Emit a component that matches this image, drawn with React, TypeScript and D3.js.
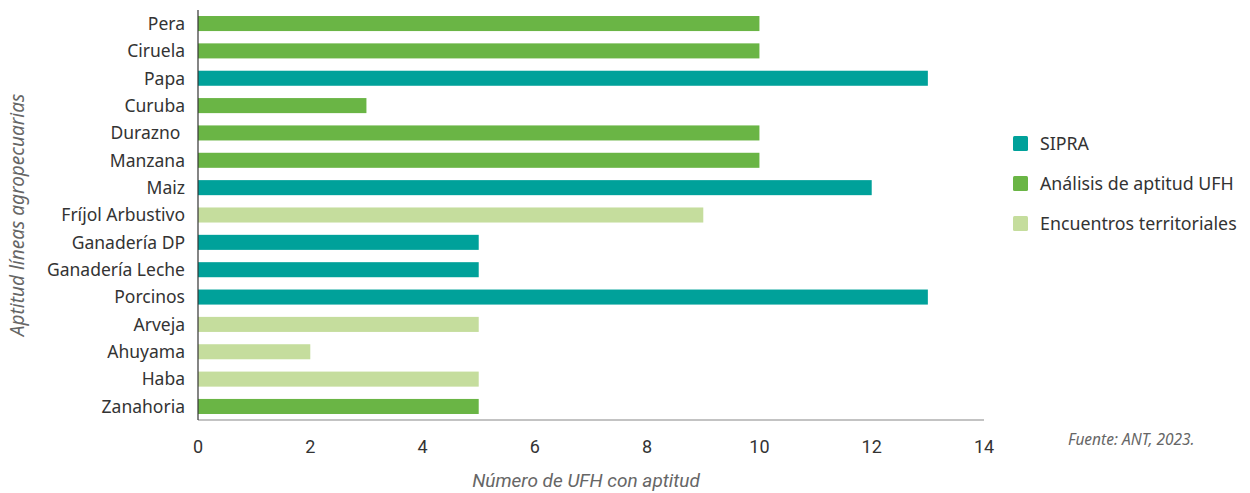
import React from "react";
import * as d3 from "d3";

const categories = ["Pera", "Ciruela", "Papa", "Curuba", "Durazno ", "Manzana", "Maiz", "Fríjol Arbustivo", "Ganadería DP", "Ganadería Leche", "Porcinos", "Arveja", "Ahuyama", "Haba", "Zanahoria"];
const values = [10, 10, 13, 3, 10, 10, 12, 9, 5, 5, 13, 5, 2, 5, 5];
const sources = ["Análisis de aptitud UFH", "Análisis de aptitud UFH", "SIPRA", "Análisis de aptitud UFH", "Análisis de aptitud UFH", "Análisis de aptitud UFH", "SIPRA", "Encuentros territoriales", "SIPRA", "SIPRA", "SIPRA", "Encuentros territoriales", "Encuentros territoriales", "Encuentros territoriales", "Análisis de aptitud UFH"];
const seriesNames = ["SIPRA", "Análisis de aptitud UFH", "Encuentros territoriales"];
const seriesColors = ["#00A19A", "#6AB545", "#C5DD9D"];
const xTicks = [0, 2, 4, 6, 8, 10, 12, 14];

export default function App() {
  const W = 1250, H = 493;
  const x = d3.scaleLinear().domain([0, 14]).range([198, 984]);
  const y = d3.scaleBand().domain(categories).range([10, 420]).paddingInner(0.45).paddingOuter(0.22);
  const color = d3.scaleOrdinal<string, string>().domain(seriesNames).range(seriesColors);
  const font = "'Noto Sans', sans-serif";
  const narrow = "'Liberation Sans Narrow', Roboto, sans-serif";
  return (
    <svg width={W} height={H} style={{ position: "absolute", left: 0, top: 0, background: "#fff" }} fontFamily={font}>
      {categories.map((c, i) => (
        <rect key={c} x={x(0)} y={y(c)!} width={x(values[i]) - x(0)} height={y.bandwidth()} fill={color(sources[i])} />
      ))}
      <line x1={x(0)} x2={x(14)} y1={420} y2={420} stroke="#888" strokeWidth={1.2} />
      <line x1={x(0)} x2={x(0)} y1={10} y2={420} stroke="#333" strokeWidth={1.2} />
      {categories.map((c) => (
        <text key={c} x={185} y={y(c)! + y.bandwidth() / 2} dy="0.36em" textAnchor="end" fontSize={17.5} fill="#333" style={{ whiteSpace: "pre" }}>{c}</text>
      ))}
      {xTicks.map((t) => (
        <text key={t} x={x(t)} y={453} textAnchor="middle" fontSize={18} fill="#333" fontFamily={narrow}>{t}</text>
      ))}
      <text x={586} y={487} textAnchor="middle" fontSize={19} fontStyle="italic" fill="#666" fontFamily={narrow}>Número de UFH con aptitud</text>
      <text transform="translate(24,215) rotate(-90)" textAnchor="middle" fontSize={19} fontStyle="italic" fill="#666">Aptitud líneas agropecuarias</text>
      {seriesNames.map((s, i) => (
        <g key={s} transform={`translate(1013,${136 + i * 40})`}>
          <rect width={15} height={15} rx={1.5} fill={seriesColors[i]} />
          <text x={27} y={7.5} dy="0.36em" fontSize={17.8} fill="#333">{s}</text>
        </g>
      ))}
      <text x={1068} y={445} fontSize={15.5} fontStyle="italic" fill="#666">Fuente: ANT, 2023.</text>
    </svg>
  );
}
